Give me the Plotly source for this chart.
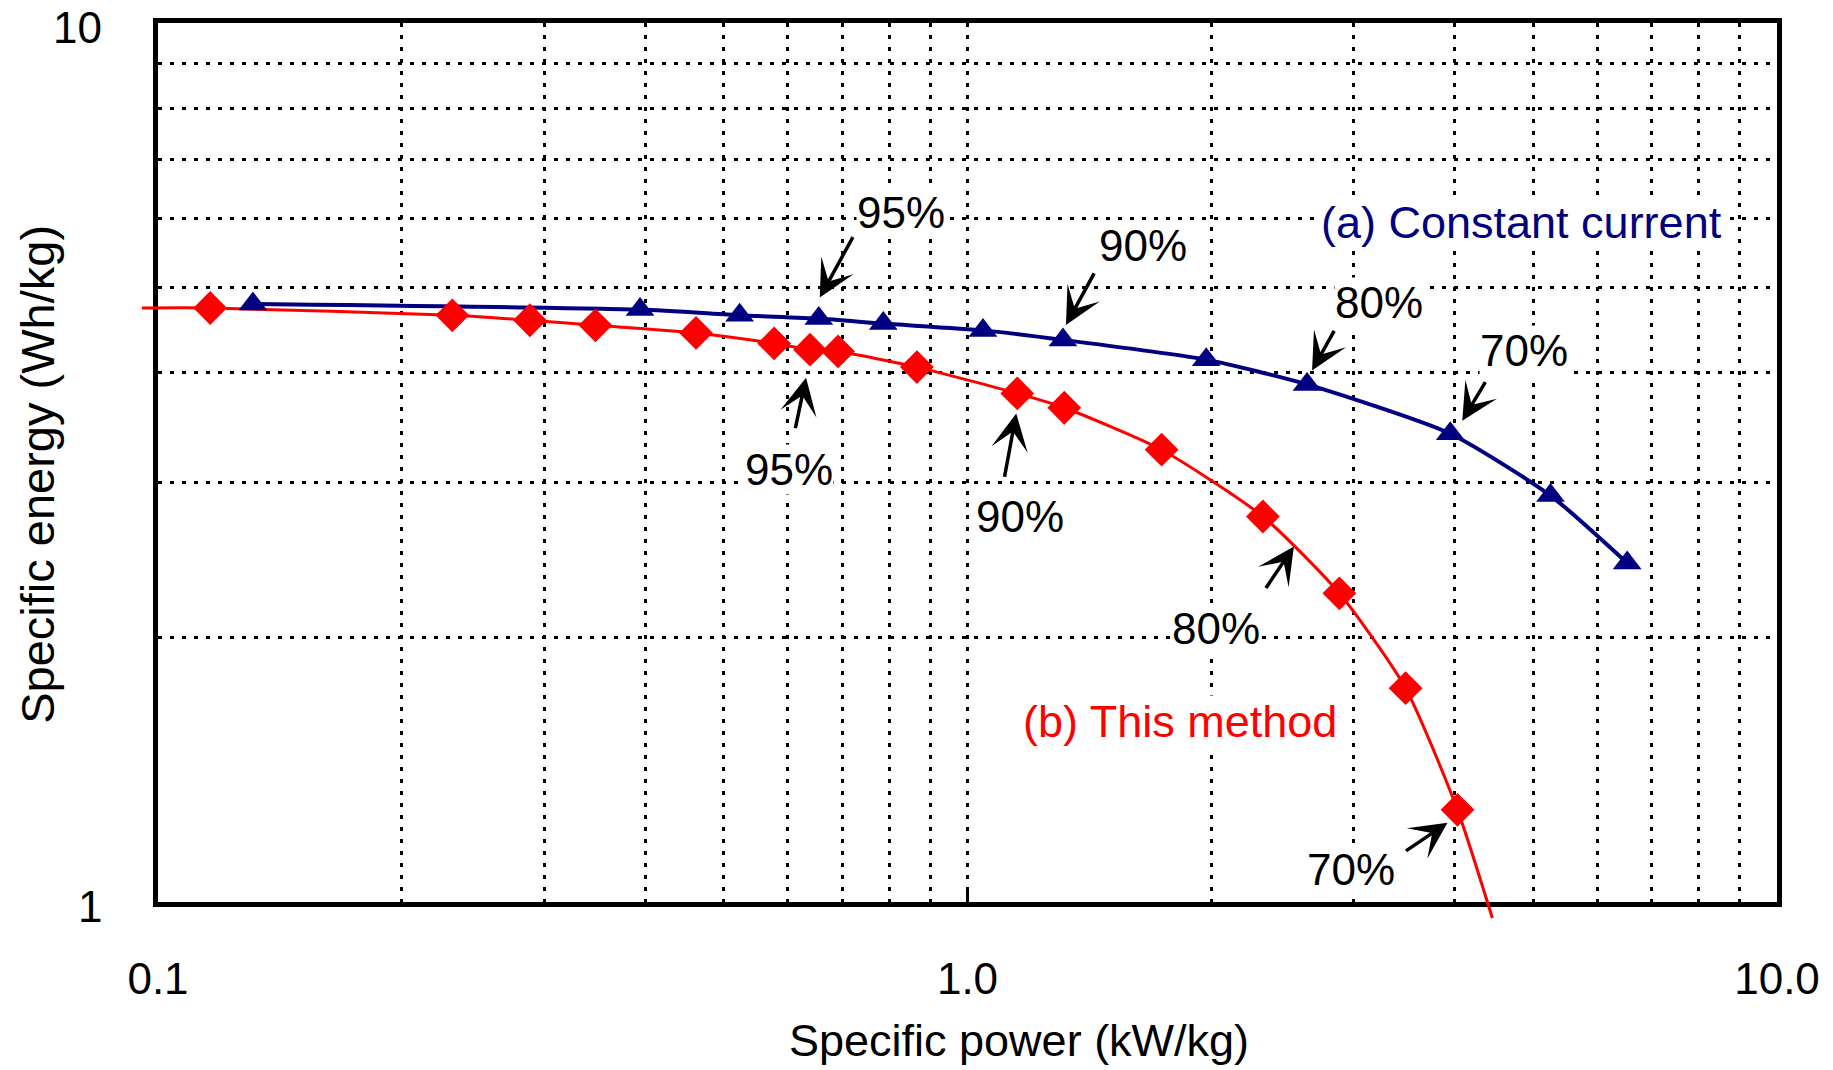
import math
import plotly.graph_objects as go

# ---------------- data ----------------
# (a) Constant current  -- specific power (kW/kg), specific energy (Wh/kg)
power_cc = [0.131, 0.394, 0.523, 0.655, 0.787, 1.045, 1.312, 1.972, 2.627, 3.948, 5.25, 6.53]
energy_cc = [4.79, 4.72, 4.65, 4.61, 4.55, 4.47, 4.36, 4.14, 3.88, 3.41, 2.90, 2.43]

# (b) This method
power_tm = [0.116, 0.231, 0.288, 0.347, 0.462, 0.577, 0.639, 0.692, 0.866,
            1.152, 1.317, 1.737, 2.317, 2.88, 3.477, 4.03]
energy_tm = [4.74, 4.65, 4.59, 4.53, 4.44, 4.32, 4.25, 4.23, 4.06,
             3.79, 3.65, 3.27, 2.745, 2.245, 1.751, 1.273]
# ends of the fitted curve of (b), which run past the axes
tm_curve_start_power, tm_curve_start_energy = 0.0955, 4.74
tm_curve_end_power, tm_curve_end_energy = 4.45, 0.959

# efficiency labels and the point each one refers to
eff_labels = ["95%", "90%", "80%", "70%"]
cc_label_idx = [3, 6, 8, 9]
tm_label_idx = [6, 9, 12, 15]

x_tick_vals = [0.1, 1.0, 10.0]
x_tick_text = ["0.1", "1.0", "10.0"]
y_tick_vals = [1, 10]
y_tick_text = ["1", "10"]
x_minor_vals = [0.2, 0.3, 0.4, 0.5, 0.6, 0.7, 0.8, 0.9, 2, 3, 4, 5, 6, 7, 8, 9]
y_minor_vals = [2, 3, 4, 5, 6, 7, 8, 9]
x_range_log = [-1, 1]   # 0.1 .. 10
y_range_log = [0, 1]    # 1 .. 10

# ---------------- layout geometry / styles ----------------
W, H = 1833, 1070
M_L, M_R, M_T, M_B = 120, 56, 23, 140          # paper area (a bit larger than the frame)
FRAME_L, FRAME_B = 158, 902                    # frame of the axes, in page pixels
paper_w = W - M_L - M_R
paper_h = H - M_T - M_B
x_dom0 = (FRAME_L - M_L) / paper_w
y_dom0 = (H - M_B - FRAME_B) / paper_h
frame_w = paper_w * (1 - x_dom0)
frame_h = paper_h * (1 - y_dom0)
# overlay axes spanning the whole paper area, same scale as the framed axes,
# so the fitted curve can run past the frame as in the original
x2_range = [x_range_log[0] - (FRAME_L - M_L) * (x_range_log[1] - x_range_log[0]) / frame_w,
            x_range_log[1]]
y2_range = [y_range_log[0] - (H - M_B - FRAME_B) * (y_range_log[1] - y_range_log[0]) / frame_h,
            y_range_log[1]]

NAVY = "#000080"
RED = "#FF0000"
FONT = "Liberation Sans, Arial, sans-serif"
GRID_DASH = "4px,8px"

fig = go.Figure()

# empty trace so the framed subplot exists
fig.add_trace(go.Scatter(x=[], y=[], xaxis="x", yaxis="y", showlegend=False))

fig.add_trace(go.Scatter(
    x=[tm_curve_start_power] + power_tm + [tm_curve_end_power],
    y=[tm_curve_start_energy] + energy_tm + [tm_curve_end_energy],
    xaxis="x2", yaxis="y2", mode="lines",
    line=dict(color=RED, width=3, shape="spline", smoothing=0.6),
    hoverinfo="skip"))
fig.add_trace(go.Scatter(
    x=power_cc, y=energy_cc, xaxis="x2", yaxis="y2", mode="lines",
    line=dict(color=NAVY, width=4, shape="spline", smoothing=0.6),
    hoverinfo="skip"))
fig.add_trace(go.Scatter(
    x=power_cc, y=energy_cc, xaxis="x2", yaxis="y2", mode="markers",
    name="(a) Constant current",
    marker=dict(symbol="triangle-up", size=25, color=NAVY)))
fig.add_trace(go.Scatter(
    x=power_tm, y=energy_tm, xaxis="x2", yaxis="y2", mode="markers",
    name="(b) This method",
    marker=dict(symbol="diamond", size=26, color=RED)))

text_annotations = []
arrow_annotations = []

# arrow: tip offset from point (dx, dy: screen px, y down), tail offset from tip (ax, ay)
cc_arrow = [((1, -21), (34, -62)), ((3, -15), (29, -53)),
            ((5, -14), (23, -41)), ((12, -13), (24, -40))]
cc_text = [(82, -106), (80, -94), (72, -82), (74, -83)]
tm_arrow = [((-4, 28), (-11, 52)), ((-1, 20), (-12, 65)),
            ((31, 30), (-29, 43)), ((-10, 13), (-43, 29))]
tm_text = [(-21, 120), (3, 123), (-47, 112), (-106, 60)]


def add_labels(px, py, idxs, arrows, texts):
    for lab, i, (tip, tail), toff in zip(eff_labels, idxs, arrows, texts):
        x = math.log10(px[i])
        y = math.log10(py[i])
        arrow_annotations.append(dict(
            x=x, y=y, xref="x2", yref="y2", text="", showarrow=True,
            arrowhead=3, arrowsize=1.75, arrowwidth=3.5, arrowcolor="black",
            ax=tail[0], ay=tail[1], xshift=tip[0], yshift=-tip[1], standoff=0))
        text_annotations.append(dict(
            x=x, y=y, xref="x2", yref="y2", text=lab, showarrow=False,
            xanchor="center", yanchor="middle", bgcolor="white", borderpad=0,
            xshift=toff[0], yshift=-toff[1],
            font=dict(family=FONT, size=44, color="black")))


add_labels(power_cc, energy_cc, cc_label_idx, cc_arrow, cc_text)
add_labels(power_tm, energy_tm, tm_label_idx, tm_arrow, tm_text)

# y tick labels (drawn as text so the top one is not cut at the page edge)
for v, t in zip(y_tick_vals, y_tick_text):
    text_annotations.append(dict(
        x=0, y=math.log10(v), xref="x domain", yref="y", text=t, showarrow=False,
        xanchor="right", yanchor="middle", xshift=-54, yshift=-4,
        font=dict(family=FONT, size=44, color="black")))

text_annotations += [
    dict(text="(a) Constant current", x=0.842, y=0.7725, xref="x domain", yref="y domain",
         xanchor="center", yanchor="middle", bgcolor="white", borderpad=0,
         showarrow=False, font=dict(family=FONT, size=45, color=NAVY)),
    dict(text="(b) This method", x=0.631, y=0.205, xref="x domain", yref="y domain",
         xanchor="center", yanchor="middle", bgcolor="white", borderpad=0,
         showarrow=False, font=dict(family=FONT, size=45, color=RED)),
    dict(text="Specific power (kW/kg)", x=0.532, y=-0.157, xref="x domain", yref="y domain",
         xanchor="center", yanchor="middle",
         showarrow=False, font=dict(family=FONT, size=45, color="black")),
    dict(text="Specific energy (Wh/kg)", x=-0.0741, y=0.486, xref="x domain", yref="y domain",
         xanchor="center", yanchor="middle",
         showarrow=False, textangle=-90, font=dict(family=FONT, size=47, color="black")),
]

axis_common = dict(
    type="log", showline=True, linecolor="black", linewidth=5, mirror=True,
    showgrid=True, gridcolor="black", gridwidth=2.5, griddash=GRID_DASH,
    zeroline=False, tickmode="array", automargin=False,
    tickfont=dict(family=FONT, size=44, color="black"),
)

fig.update_layout(
    width=W, height=H,
    margin=dict(l=M_L, r=M_R, t=M_T, b=M_B, autoexpand=False),
    paper_bgcolor="white", plot_bgcolor="rgba(0,0,0,0)",
    showlegend=False,
    xaxis=dict(axis_common, domain=[x_dom0, 1], anchor="y", range=x_range_log,
               tickvals=x_tick_vals, ticktext=x_tick_text,
               ticks="inside", ticklen=14, tickwidth=3, tickcolor="black",
               ticklabelstandoff=34,
               minor=dict(tickmode="array", tickvals=x_minor_vals, showgrid=True,
                          gridcolor="black", gridwidth=2.5, griddash=GRID_DASH, ticks="")),
    yaxis=dict(axis_common, domain=[y_dom0, 1], anchor="x", range=y_range_log,
               tickvals=y_tick_vals, ticktext=y_tick_text, showticklabels=False,
               ticks="",
               minor=dict(tickmode="array", tickvals=y_minor_vals, showgrid=True,
                          gridcolor="black", gridwidth=2.5, griddash=GRID_DASH, ticks="")),
    xaxis2=dict(type="log", domain=[0, 1], anchor="y2", range=x2_range, visible=False,
                automargin=False),
    yaxis2=dict(type="log", domain=[0, 1], anchor="x2", range=y2_range, visible=False,
                automargin=False),
    annotations=text_annotations + arrow_annotations,
)

fig.write_html("out.html")
